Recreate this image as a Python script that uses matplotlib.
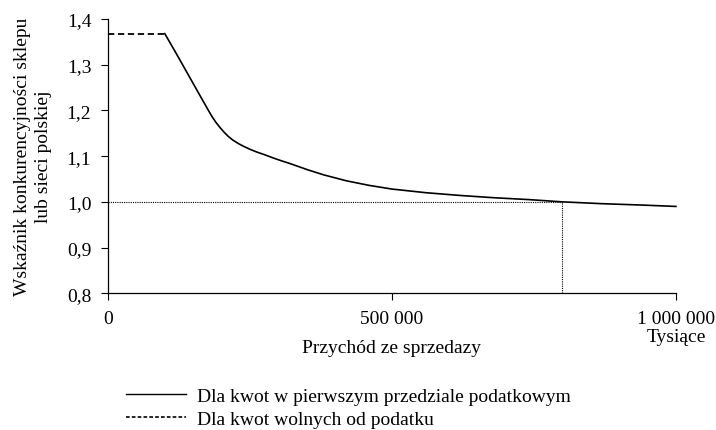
import matplotlib
matplotlib.use("Agg")
import matplotlib.pyplot as plt
from matplotlib.lines import Line2D

# data (revenue in thousands)
x_tax = [100, 120, 140, 155, 165, 175, 183, 190, 197, 204, 212, 220, 229, 238, 250, 262, 276,
         291, 305, 320, 352, 380, 420, 460, 500, 560, 620, 680, 740, 800, 870, 940, 1000]
y_tax = [1.368, 1.325, 1.281, 1.248, 1.226, 1.204, 1.187, 1.174, 1.163, 1.153, 1.143, 1.135,
         1.128, 1.122, 1.115, 1.109, 1.103, 1.096, 1.090, 1.084, 1.070, 1.059, 1.046, 1.036,
         1.028, 1.020, 1.014, 1.009, 1.005, 1.000, 0.996, 0.993, 0.990]
x_free = [0, 100]
y_free = [1.368, 1.368]
x_cross = 800
y_ref = 1.0

yticks = [0.8, 0.9, 1.0, 1.1, 1.2, 1.3, 1.4]
yticklabels = ["0,8", "0,9", "1,0", "1,1", "1,2", "1,3", "1,4"]
xticks = [0, 500, 1000]
xticklabels = ["0", "500 000", "1 000 000"]

legend_labels = ["Dla kwot w pierwszym przedziale podatkowym", "Dla kwot wolnych od podatku"]

plt.rcParams["font.family"] = ["Liberation Serif", "DejaVu Serif"]
fs = 14

fig = plt.figure(figsize=(7.16, 4.31), dpi=100)
ax = fig.add_axes([0.1508, 0.3172, 0.944 - 0.1508, 0.9536 - 0.3172])

# reference lines
ax.plot([0, x_cross], [y_ref, y_ref], color="black", lw=0.8, ls=(0, (1, 1)))
ax.plot([x_cross, x_cross], [0.8, y_ref], color="black", lw=0.8, ls=(0, (1, 1)))

# curves
ax.plot(x_tax, y_tax, color="black", lw=1.2, clip_on=False)
ax.plot(x_free, y_free, color="black", lw=1.3, ls=(0, (3.5, 2)), clip_on=False)

ax.set_xlim(0, 1000)
ax.set_ylim(0.8, 1.4)
ax.set_yticks(yticks)
ax.set_yticklabels(yticklabels, fontsize=fs)
ax.set_xticks(xticks)
ax.set_xticklabels(xticklabels, fontsize=fs)
ax.tick_params(axis="both", direction="out", length=5, width=0.8, color="black", pad=7)

for s in ["top", "right"]:
    ax.spines[s].set_visible(False)
for s in ["left", "bottom"]:
    ax.spines[s].set_linewidth(0.9)

ax.set_ylabel("Wskaźnik konkurencyjności sklepu\nlub sieci polskiej", fontsize=fs, linespacing=1.35)
ax.yaxis.set_label_coords(-0.098, 0.5)
ax.set_xlabel("Przychód ze sprzedazy", fontsize=fs, labelpad=9)
ax.text(1.0, -0.125, "Tysiące", transform=ax.transAxes, ha="center", va="top", fontsize=fs)

handles = [Line2D([], [], color="black", lw=1.0),
           Line2D([], [], color="black", lw=1.2, ls=(0, (2.2, 1.3)))]
fig.legend(handles, legend_labels, loc="upper left", bbox_to_anchor=(0.165, 0.118),
           frameon=False, fontsize=fs, handlelength=3.1, handletextpad=0.55, labelspacing=0.3,
           borderaxespad=0)

fig.savefig("out.png", dpi=100)
